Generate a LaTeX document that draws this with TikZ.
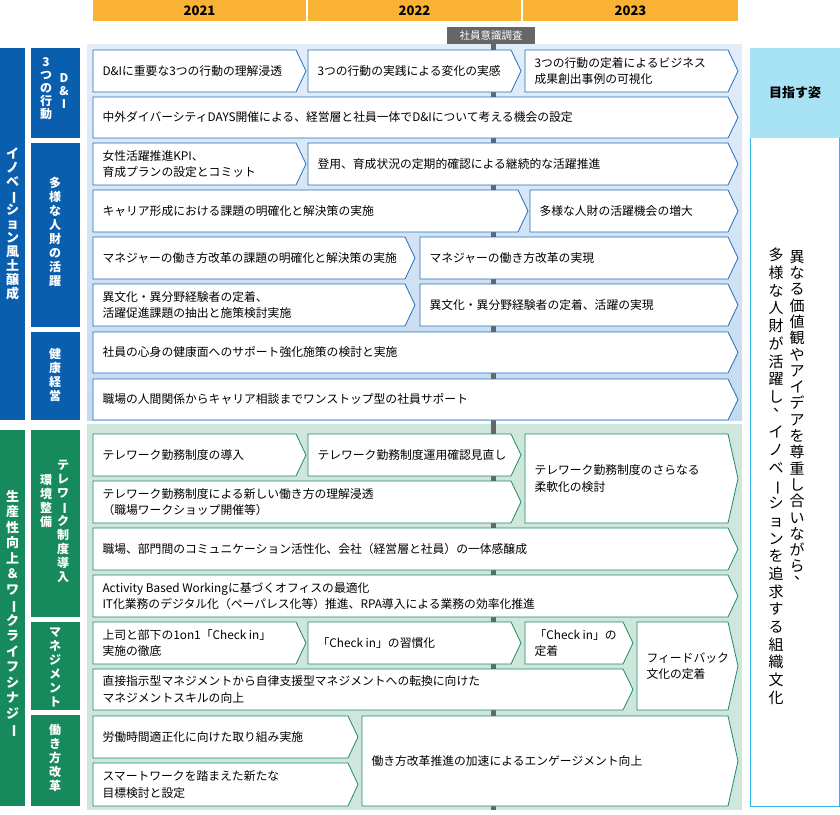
\documentclass[tikz,border=0pt]{standalone}
\usepackage{fontspec}
\setmainfont{Noto Sans CJK JP}
\usepackage{graphicx}
\definecolor{bbox}{HTML}{1F6EC0}
\definecolor{bfill}{HTML}{0A5EAE}
\definecolor{gbox}{HTML}{1F8A60}
\definecolor{gfill}{HTML}{168A5C}
\definecolor{bbgT}{HTML}{E3EDF8}
\definecolor{bbgB}{HTML}{C5DAEF}
\definecolor{gbg}{HTML}{CFE6DD}
\definecolor{yr}{HTML}{F9B233}
\definecolor{cy}{HTML}{A8E3F5}
\definecolor{cyb}{HTML}{2FB8E6}
\newcommand\abox[6]{%
 \fill[white,draw=#5,line width=0.8pt] (#1,#2) -- (#3-10,#2) -- (#3,{(#2+#4)/2}) -- (#3-10,#4) -- (#1,#4) -- cycle;
 \node[anchor=west,align=left,font=\fontsize{11.8}{16.5}\selectfont] at (#1+6,{(#2+#4)/2}) {#6};}
\newcommand\vb{\rotatebox[origin=c]{-90}{ー}}
\newcommand\vc{\hspace*{0.6em}\raisebox{0.55em}[0pt][0pt]{、}}
\begin{document}
\begin{tikzpicture}[x=1pt,y=-1pt,
  vt/.style={text=white,align=center,inner sep=0pt,anchor=north}]
\useasboundingbox (0,0) rectangle (840,814);
% years
\foreach \a/\b/\t in {93/306/2021,308/521/2022,523/738/2023}{
  \fill[yr] (\a,0) rectangle (\b,21);
  \node[font=\bfseries\fontsize{13}{15}\selectfont] at ({(\a+\b)/2},11) {\t};}
% backgrounds
\shade[top color=bbgT,bottom color=bbgB] (87,44) rectangle (742,420);
\fill[gbg] (87,424) rectangle (742,810);
\fill[gray!80!black] (491,44) rectangle (496,810);
\fill[gray!80!black] (447,27) rectangle (535,44);
\node[text=white,font=\fontsize{10.5}{12}\selectfont] (survey) at (491,35.5) {社員意識調査};
% left columns
\fill[bfill] (0,48) rectangle (25,420);
\node[vt,font=\bfseries\fontsize{13}{14}\selectfont] (inov) at (12.5,148) {イ\\ノ\\ベ\\\vb\\シ\\ョ\\ン\\風\\土\\醸\\成};
\fill[gfill] (0,430) rectangle (25,806);
\node[vt,font=\bfseries\fontsize{13}{15.5}\selectfont] (seisan) at (12.5,490) {生\\産\\性\\向\\上\\＆\\ワ\\\vb\\ク\\ラ\\イ\\フ\\シ\\ナ\\ジ\\\vb};
\fill[bfill] (31,48) rectangle (80,138);
\fill[bfill] (31,143) rectangle (80,327);
\fill[bfill] (31,332) rectangle (80,420);
\fill[gfill] (31,430) rectangle (80,617);
\fill[gfill] (31,622) rectangle (80,710);
\fill[gfill] (31,715) rectangle (80,806);
\node[vt,font=\bfseries\fontsize{12}{13}\selectfont] (di) at (64,73) {D\\\&\\I};
\node[vt,font=\bfseries\fontsize{12}{13}\selectfont] (act) at (46,57) {3\\つ\\の\\行\\動};
\node[vt,font=\bfseries\fontsize{12}{14}\selectfont] (tayo) at (55,177) {多\\様\\な\\人\\財\\の\\活\\躍};
\node[vt,font=\bfseries\fontsize{12}{14}\selectfont] (kenko) at (55,348) {健\\康\\経\\営};
\node[vt,font=\bfseries\fontsize{12}{14}\selectfont] (tele1) at (63,460) {テ\\レ\\ワ\\\vb\\ク\\制\\度\\導\\入};
\node[vt,font=\bfseries\fontsize{12}{14}\selectfont] (tele2) at (46,474) {環\\境\\整\\備};
\node[vt,font=\bfseries\fontsize{12}{14}\selectfont] (mgmt) at (55,628) {マ\\ネ\\ジ\\メ\\ン\\ト};
\node[vt,font=\bfseries\fontsize{12}{14}\selectfont] (hatar) at (55,724) {働\\き\\方\\改\\革};
% right panel
\fill[cy] (750,48) rectangle (840,138);
\node[font=\bfseries\fontsize{13}{15}\selectfont] (mezasu) at (795,93) {目指す姿};
\draw[cyb,line width=1pt] (750.5,138) -- (750.5,806) -- (839.5,806) -- (839.5,138);
\node[vt,text=black,font=\fontsize{15}{16.3}\selectfont] (r1) at (797,250) {異\\な\\る\\価\\値\\観\\や\\ア\\イ\\デ\\ア\\を\\尊\\重\\し\\合\\い\\な\\が\\ら\\\vc};
\node[vt,text=black,font=\fontsize{15}{17.7}\selectfont] (r2) at (776,248) {多\\様\\な\\人\\財\\が\\活\\躍\\し\\\vc\\イ\\ノ\\ベ\\\vb\\シ\\ョ\\ン\\を\\追\\求\\す\\る\\組\\織\\文\\化};
% blue boxes
\abox{93}{50}{306}{92}{bbox}{D\&Iに重要な3つの行動の理解浸透}
\abox{308}{50}{521}{92}{bbox}{3つの行動の実践による変化の実感}
\abox{525}{50}{738}{92}{bbox}{3つの行動の定着によるビジネス\\成果創出事例の可視化}
\abox{93}{97}{738}{138}{bbox}{中外ダイバーシティDAYS開催による、経営層と社員一体でD\&Iについて考える機会の設定}
\abox{93}{143}{306}{185}{bbox}{女性活躍推進KPI、\\育成プランの設定とコミット}
\abox{308}{143}{738}{185}{bbox}{登用、育成状況の定期的確認による継続的な活躍推進}
\abox{93}{190}{528}{232}{bbox}{キャリア形成における課題の明確化と解決策の実施}
\abox{530}{190}{738}{232}{bbox}{多様な人財の活躍機会の増大}
\abox{93}{237}{415}{279}{bbox}{マネジャーの働き方改革の課題の明確化と解決策の実施}
\abox{420}{237}{738}{279}{bbox}{マネジャーの働き方改革の実現}
\abox{93}{284}{415}{326}{bbox}{異文化・異分野経験者の定着、\\活躍促進課題の抽出と施策検討実施}
\abox{420}{284}{738}{326}{bbox}{異文化・異分野経験者の定着、活躍の実現}
\abox{93}{332}{738}{373}{bbox}{社員の心身の健康面へのサポート強化施策の検討と実施}
\abox{93}{379}{738}{420}{bbox}{職場の人間関係からキャリア相談までワンストップ型の社員サポート}
% green boxes
\abox{93}{434}{306}{476}{gbox}{テレワーク勤務制度の導入}
\abox{308}{434}{521}{476}{gbox}{テレワーク勤務制度運用確認見直し}
\abox{525}{434}{738}{523}{gbox}{テレワーク勤務制度のさらなる\\柔軟化の検討}
\abox{93}{481}{521}{523}{gbox}{テレワーク勤務制度による新しい働き方の理解浸透\\（職場ワークショップ開催等）}
\abox{93}{528}{738}{570}{gbox}{職場、部門間のコミュニケーション活性化、会社（経営層と社員）の一体感醸成}
\abox{93}{575}{738}{617}{gbox}{Activity Based Workingに基づくオフィスの最適化\\IT化業務のデジタル化（ペーパレス化等）推進、RPA導入による業務の効率化推進}
\abox{93}{622}{306}{664}{gbox}{上司と部下の1on1「Check in」\\実施の徹底}
\abox{308}{622}{521}{664}{gbox}{「Check in」の習慣化}
\abox{525}{622}{633}{664}{gbox}{「Check in」の\\定着}
\abox{637}{622}{738}{710}{gbox}{フィードバック\\文化の定着}
\abox{93}{669}{633}{710}{gbox}{直接指示型マネジメントから自律支援型マネジメントへの転換に向けた\\マネジメントスキルの向上}
\abox{93}{716}{358}{758}{gbox}{労働時間適正化に向けた取り組み実施}
\abox{362}{716}{738}{806}{gbox}{働き方改革推進の加速によるエンゲージメント向上}
\abox{93}{763}{358}{806}{gbox}{スマートワークを踏まえた新たな\\目標検討と設定}
\end{tikzpicture}
\end{document}
